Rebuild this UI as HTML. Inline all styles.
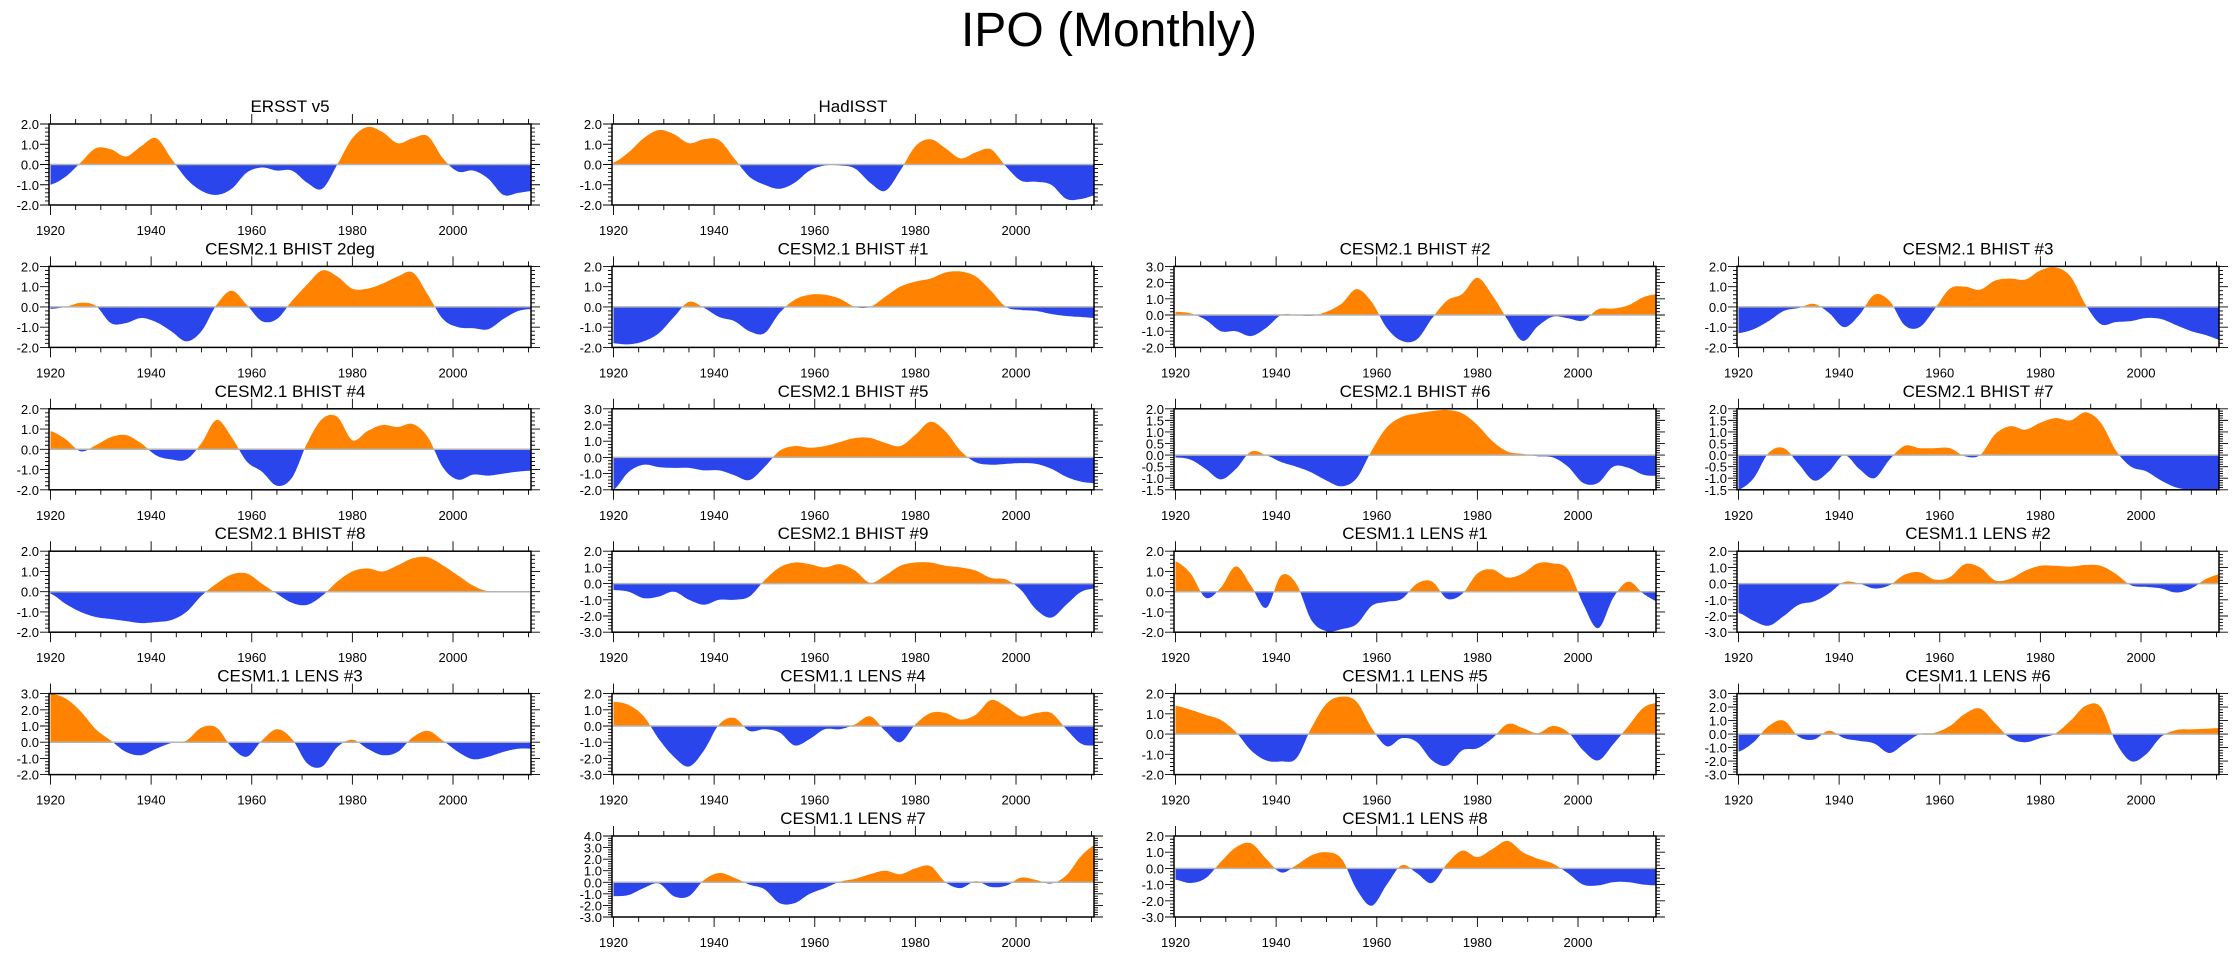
<!DOCTYPE html>
<html><head><meta charset="utf-8"><title>IPO (Monthly)</title>
<style>
html,body{margin:0;padding:0;background:#fff;}
svg{display:block;font-family:"Liberation Sans",Arial,sans-serif;}
</style></head>
<body>
<svg id="chart" width="2238" height="954" viewBox="0 0 2238 954" xmlns="http://www.w3.org/2000/svg">
<text x="1109" y="46" font-size="48" text-anchor="middle" fill="#000">IPO (Monthly)</text>
</svg>
<script>
const years = [1920,1923,1926,1929,1932,1935,1938,1941,1944,1947,1950,1953,1956,1959,1962,1965,1968,1971,1974,1977,1980,1983,1986,1989,1992,1995,1998,2001,2004,2007,2010,2013,2016];
const titles = ["ERSST v5","HadISST","CESM2.1 BHIST 2deg","CESM2.1 BHIST #1","CESM2.1 BHIST #2","CESM2.1 BHIST #3","CESM2.1 BHIST #4","CESM2.1 BHIST #5","CESM2.1 BHIST #6","CESM2.1 BHIST #7","CESM2.1 BHIST #8","CESM2.1 BHIST #9","CESM1.1 LENS #1","CESM1.1 LENS #2","CESM1.1 LENS #3","CESM1.1 LENS #4","CESM1.1 LENS #5","CESM1.1 LENS #6","CESM1.1 LENS #7","CESM1.1 LENS #8"];
const yMins = [-2,-2,-2,-2,-2,-2,-2,-2,-1.5,-1.5,-2,-3,-2,-3,-2,-3,-2,-3,-3,-3];
const yMaxs = [2,2,2,2,3,2,2,3,2,2,2,2,2,2,3,2,2,3,4,2];
const ySteps = [1,1,1,1,1,1,1,1,0.5,0.5,1,1,1,1,1,1,1,1,1,1];
const xTicks = [1920,1940,1960,1980,2000];
const sERSST = [-1.0,-0.6,0.1,0.8,0.75,0.4,0.9,1.3,0.3,-0.7,-1.3,-1.5,-1.2,-0.4,-0.15,-0.3,-0.3,-0.9,-1.2,0,1.3,1.85,1.6,1.05,1.3,1.4,0.3,-0.35,-0.3,-0.7,-1.5,-1.4,-1.3];
const sHad = [0.1,0.6,1.3,1.7,1.5,1.05,1.25,1.2,0.3,-0.6,-1.0,-1.2,-0.9,-0.3,-0.05,-0.05,-0.2,-0.9,-1.3,-0.3,0.9,1.25,0.8,0.3,0.6,0.75,-0.1,-0.8,-0.85,-1.0,-1.7,-1.7,-1.5];
const sB2deg = [-0.1,0.0,0.2,0.05,-0.8,-0.8,-0.55,-0.75,-1.2,-1.7,-1.2,0.1,0.8,0.1,-0.7,-0.6,0.3,1.1,1.8,1.5,0.9,0.9,1.15,1.5,1.7,0.6,-0.6,-1.0,-1.05,-1.1,-0.6,-0.2,-0.1];
const sB1 = [-1.8,-1.85,-1.7,-1.3,-0.5,0.25,-0.05,-0.5,-0.7,-1.2,-1.3,-0.3,0.35,0.6,0.6,0.4,0.0,0.0,0.5,1.0,1.25,1.4,1.7,1.75,1.5,0.8,0.0,-0.15,-0.2,-0.35,-0.45,-0.5,-0.55];
const sB2 = [0.2,0.1,-0.3,-1.0,-1.0,-1.3,-0.8,0.0,0.0,-0.05,0.2,0.7,1.6,0.8,-0.8,-1.6,-1.5,-0.2,0.9,1.3,2.3,1.2,-0.3,-1.6,-0.7,-0.1,-0.2,-0.35,0.35,0.4,0.6,1.1,1.3];
const sB3 = [-1.3,-1.1,-0.7,-0.2,-0.05,0.15,-0.3,-1.0,-0.4,0.6,0.3,-0.9,-1.0,-0.1,0.9,1.0,0.85,1.3,1.4,1.35,1.8,1.95,1.5,0.1,-0.85,-0.75,-0.7,-0.55,-0.6,-0.9,-1.2,-1.4,-1.65];
const sB4 = [0.9,0.5,-0.1,0.2,0.6,0.7,0.3,-0.3,-0.5,-0.5,0.3,1.45,0.6,-0.6,-1.1,-1.8,-1.4,0.3,1.5,1.6,0.45,0.9,1.2,1.1,1.25,0.6,-0.9,-1.5,-1.25,-1.3,-1.2,-1.1,-1.05];
const sB5 = [-2.0,-0.9,-0.45,-0.6,-0.65,-0.65,-0.8,-0.8,-1.1,-1.4,-0.6,0.4,0.7,0.6,0.7,0.95,1.2,1.2,0.9,0.7,1.4,2.2,1.6,0.4,-0.3,-0.45,-0.4,-0.35,-0.4,-0.7,-1.2,-1.5,-1.6];
const sB6 = [-0.1,-0.2,-0.6,-1.05,-0.6,0.15,0.0,-0.3,-0.5,-0.75,-1.1,-1.35,-1.0,0.2,1.2,1.65,1.8,1.9,1.95,1.8,1.3,0.6,0.15,0.05,-0.05,-0.1,-0.5,-1.2,-1.2,-0.5,-0.55,-0.85,-0.9];
const sB7 = [-1.5,-1.0,0.1,0.3,-0.4,-1.1,-0.7,0.0,-0.6,-1.0,-0.2,0.4,0.3,0.3,0.3,-0.05,0.0,0.9,1.25,1.1,1.4,1.6,1.5,1.85,1.4,0.2,-0.5,-0.7,-1.1,-1.4,-1.5,-1.5,-1.5];
const sB8 = [-0.1,-0.6,-1.0,-1.25,-1.35,-1.45,-1.55,-1.5,-1.4,-1.0,-0.2,0.4,0.85,0.9,0.4,-0.1,-0.55,-0.65,-0.2,0.5,1.0,1.15,1.0,1.3,1.65,1.7,1.3,0.8,0.3,0.02,0.02,0.02,0.02];
const sB9 = [-0.4,-0.5,-0.9,-0.8,-0.5,-1.0,-1.3,-1.0,-1.0,-0.8,0.2,1.0,1.3,1.2,1.0,1.2,0.8,0.05,0.5,1.1,1.3,1.3,1.1,1.0,0.8,0.35,0.25,-0.4,-1.6,-2.1,-1.3,-0.5,-0.3];
const sL1 = [1.5,0.9,-0.3,0.2,1.25,0.3,-0.8,0.8,0.4,-1.4,-1.95,-1.85,-1.6,-0.7,-0.5,-0.35,0.4,0.5,-0.35,-0.1,0.9,1.1,0.7,0.9,1.4,1.4,1.1,-0.6,-1.8,-0.3,0.5,-0.1,-0.5];
const sL2 = [-1.8,-2.3,-2.6,-2.0,-1.3,-1.1,-0.6,0.1,0.0,-0.3,-0.1,0.55,0.7,0.25,0.4,1.2,1.0,0.2,0.3,0.8,1.1,1.1,1.05,1.15,1.1,0.6,-0.1,-0.2,-0.3,-0.55,-0.3,0.3,0.6];
const sL3 = [3.0,2.7,1.9,0.8,0.1,-0.6,-0.8,-0.4,-0.05,0.1,0.9,0.9,-0.3,-0.9,0.1,0.8,0.2,-1.3,-1.5,-0.3,0.15,-0.4,-0.8,-0.6,0.3,0.7,0.1,-0.6,-1.05,-0.9,-0.6,-0.4,-0.4];
const sL4 = [1.5,1.3,0.6,-0.8,-1.9,-2.5,-1.5,0.1,0.5,-0.3,-0.2,-0.4,-1.2,-0.8,-0.2,-0.2,0.1,0.6,-0.3,-1.0,0.1,0.8,0.8,0.4,0.7,1.6,1.2,0.6,0.8,0.8,-0.2,-1.1,-1.2];
const sL5 = [1.4,1.2,0.95,0.7,0.1,-0.8,-1.3,-1.35,-1.2,0.3,1.5,1.85,1.6,0.3,-0.6,-0.2,-0.4,-1.3,-1.55,-0.8,-0.7,-0.2,0.5,0.3,0.05,0.4,0.1,-0.8,-1.3,-0.5,0.4,1.3,1.55];
const sL6 = [-1.3,-0.6,0.6,1.0,-0.2,-0.4,0.25,-0.3,-0.5,-0.7,-1.4,-0.7,0.0,0.1,0.6,1.5,1.9,0.8,-0.3,-0.6,-0.3,0.05,1.0,2.1,2.0,-0.6,-2.0,-1.5,-0.2,0.3,0.35,0.4,0.45];
const sL7 = [-1.2,-1.1,-0.5,-0.1,-1.2,-1.2,0.2,0.8,0.4,-0.2,-0.6,-1.8,-1.8,-1.0,-0.5,0.05,0.3,0.7,1.0,0.7,1.2,1.4,0.0,-0.5,0.1,-0.4,-0.3,0.4,0.2,-0.1,0.6,2.3,3.3];
const sL8 = [-0.7,-0.9,-0.6,0.4,1.3,1.55,0.6,-0.25,0.2,0.8,1.0,0.6,-1.3,-2.3,-1.0,0.2,-0.3,-0.9,0.3,1.1,0.7,1.2,1.7,1.0,0.6,0.3,-0.3,-1.0,-1.05,-0.85,-0.85,-1.0,-1.05];
const seriesList = [sERSST,sHad,sB2deg,sB1,sB2,sB3,sB4,sB5,sB6,sB7,sB8,sB9,sL1,sL2,sL3,sL4,sL5,sL6,sL7,sL8];
const panelCols = [0,1,0,1,2,3,0,1,2,3,0,1,2,3,0,1,2,3,1,2];
const panelRows = [0,0,1,1,1,1,2,2,2,2,3,3,3,3,4,4,4,4,5,5];

const NS = "http://www.w3.org/2000/svg";
const svg = document.getElementById('chart');
const COLX = [49,612,1174,1737], PW = 482, PH = 81, ROW0 = 124, ROWSTEP = 142.4;
const X0 = 1920, X1 = 2015.5;
function mk(tag, attrs, parent){ const e = document.createElementNS(NS, tag); for (const k in attrs) e.setAttribute(k, attrs[k]); (parent||svg).appendChild(e); return e; }
function interp(xs, ys, t){
  let i = 0; while (i < xs.length-2 && t > xs[i+1]) i++;
  const p0 = ys[Math.max(i-1,0)], p1 = ys[i], p2 = ys[i+1], p3 = ys[Math.min(i+2,ys.length-1)];
  const u = (t - xs[i])/(xs[i+1]-xs[i]);
  const u2=u*u,u3=u2*u;
  return 0.5*((2*p1)+(-p0+p2)*u+(2*p0-5*p1+4*p2-p3)*u2+(-p0+3*p1-3*p2+p3)*u3);
}
for (let p = 0; p < titles.length; p++){
  const L = COLX[panelCols[p]], T = ROW0 + panelRows[p]*ROWSTEP, R = L + PW, B = T + PH;
  const ymin = yMins[p], ymax = yMaxs[p], step = ySteps[p];
  const xs = v => L + 1.5 + (v - X0)/(X1 - X0)*(PW - 1.5);
  const ys = v => B - (v - ymin)/(ymax - ymin)*PH;
  const g = mk('g', {});
  
  
  const t = mk('text', {x:(L+R)/2, y:T-12, 'font-size':17, 'text-anchor':'middle', fill:'#000'}, g);
  t.textContent = titles[p];
  
  
  const y0 = ys(0);
  let d = 'M' + xs(X0).toFixed(1) + ',' + y0.toFixed(1);
  for (let yr = X0; yr <= X1 + 1e-6; yr += 0.25){
    let v = interp(years, seriesList[p], yr);
    v = Math.max(ymin, Math.min(ymax, v));
    d += 'L' + xs(yr).toFixed(1) + ',' + ys(v).toFixed(1);
  }
  d += 'L' + xs(X1).toFixed(1) + ',' + y0.toFixed(1) + 'Z';
  const cidA = 'ca'+p, cidB = 'cb'+p;
  const defs = mk('defs', {}, g);
  const c1 = mk('clipPath', {id:cidA}, defs); mk('rect', {x:L, y:T, width:PW, height:y0-T}, c1);
  const c2 = mk('clipPath', {id:cidB}, defs); mk('rect', {x:L, y:y0, width:PW, height:B-y0}, c2);
  const pa = mk('path', {d:d, fill:'#ff8300', 'clip-path':'url(#'+cidA+')'}, g);
  
  
  const pb = mk('path', {d:d, fill:'#2945eb', 'clip-path':'url(#'+cidB+')'}, g);
  
  
  const zl = mk('line', {x1:L, x2:R, y1:y0, y2:y0, stroke:'#b4b4b4', 'stroke-width':1.5}, g);
  
  
  let tk = '';
  for (let yr = 1920; yr <= 2015; yr += 5){
    const x = xs(yr), len = (yr % 20 === 0) ? 10 : 5;
    tk += 'M'+x+','+B+'v'+len+'M'+x+','+T+'v'+(-len);
  }
  const minor = step === 1 ? 0.2 : 0.1;
  const nMin = Math.round((ymax-ymin)/minor);
  for (let i = 0; i <= nMin; i++){
    const v = ymin + i*minor, y = ys(v);
    const isMaj = Math.abs(v/step - Math.round(v/step)) < 1e-6;
    const len = isMaj ? 9 : 4;
    tk += 'M'+L+','+y+'h'+(-len)+'M'+R+','+y+'h'+len;
  }
  mk('path', {d:tk, stroke:'#000', 'stroke-width':0.9, fill:'none'}, g);
  const box = mk('rect', {x:L, y:T, width:PW, height:PH, fill:'none', stroke:'#000', 'stroke-width':1.5}, g);
  
  
  for (const yr of xTicks){
    const xl = mk('text', {x:xs(yr), y:B+30, 'font-size':13, 'text-anchor':'middle', fill:'#000'}, g);
    xl.textContent = yr;
    
    
  }
  const nMaj = Math.round((ymax-ymin)/step);
  for (let i = 0; i <= nMaj; i++){
    const v = ymin + i*step;
    const yl = mk('text', {x:L-10, y:ys(v)+5, 'font-size':13, 'text-anchor':'end', fill:'#000'}, g);
    yl.textContent = v.toFixed(1);
    
    
  }
}
</script>
</body></html>
